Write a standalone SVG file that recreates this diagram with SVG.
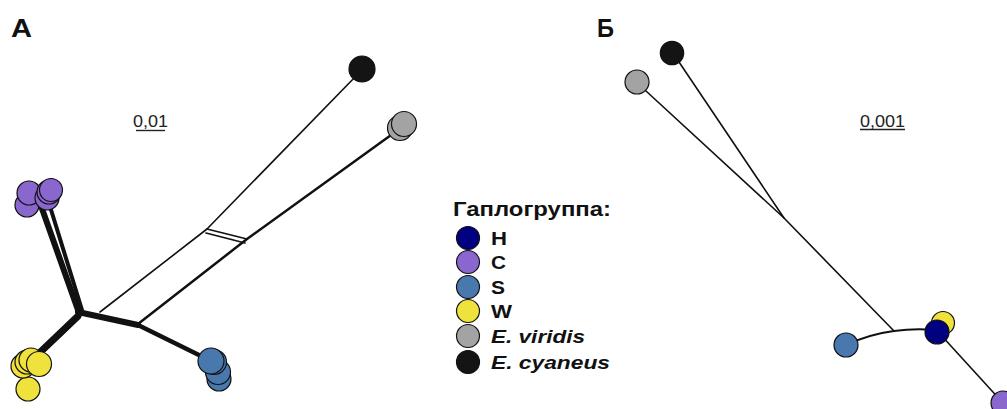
<svg xmlns="http://www.w3.org/2000/svg" width="1007" height="409" viewBox="0 0 1007 409">
<style>
.lbl{font-family:"Liberation Sans",Arial,sans-serif;font-weight:bold;fill:#111}
.sc{font-family:"Liberation Sans",Arial,sans-serif;font-size:17px;fill:#222}
.nd{stroke:#111;stroke-width:1.2}
.ln{fill:none;stroke:#111;stroke-linecap:round;stroke-linejoin:round}
.H{fill:#000080}.C{fill:#8A67CF}.S{fill:#4878AE}.W{fill:#F0E23C}.V{fill:#A3A3A3}.K{fill:#141414}
</style>
<rect width="1007" height="409" fill="#fff"/>
<text class="lbl" x="11" y="37" font-size="25" textLength="21" lengthAdjust="spacingAndGlyphs">А</text>
<text class="lbl" x="597" y="37" font-size="25" textLength="17" lengthAdjust="spacingAndGlyphs">Б</text>
<g id="scaleA"><text class="sc" x="133" y="127" textLength="35" lengthAdjust="spacingAndGlyphs">0,01</text><line x1="136" y1="130.5" x2="165" y2="130.5" stroke="#222" stroke-width="1.4"/></g>
<g id="scaleB"><text class="sc" x="860" y="127" textLength="45" lengthAdjust="spacingAndGlyphs">0,001</text><line x1="860" y1="129.5" x2="905" y2="129.5" stroke="#222" stroke-width="1.4"/></g>
<g id="connectors">
  <!-- panel A -->
  <path class="ln" stroke-width="1.6" d="M357,75 L207,229 L100,312"/>
  <path class="ln" stroke-width="2.5" d="M398,130 L247,239 L138,324"/>
  <path class="ln" stroke-width="1.6" d="M207,229 L247,239 M206,233 L245,243"/>
  <!-- purple branch -->
  <path class="ln" stroke-width="6" d="M78,310 L40,203"/>
  <path class="ln" stroke-width="1.3" stroke="#fff" d="M77,308 L39,203"/>
  <path class="ln" stroke-width="4" d="M82,310 L48,200"/>
  <!-- yellow branch -->
  <path class="ln" stroke-width="7" d="M78,316 L34,358"/>
  <path class="ln" stroke-width="1.2" stroke="#fff" d="M77,316.5 L33,358"/>
  <path class="ln" stroke-width="1.2" stroke="#fff" d="M80,318 L37,359"/>
  <!-- center to node2 -->
  <path class="ln" stroke-width="6" d="M78,312 L138,325"/>
  <path class="ln" stroke-width="1" stroke="#fff" d="M85,313 L132,323"/>
  <!-- node2 to blue -->
  <path class="ln" stroke-width="4.5" d="M138,325 L205,358"/>
  <!-- panel B -->
  <path class="ln" stroke-width="1.6" d="M679,62 L784,218"/>
  <path class="ln" stroke-width="1.6" d="M646,91 L784,218 L894,331"/>
  <path class="ln" stroke-width="2" d="M894,331 Q870,334 846,345"/>
  <path class="ln" stroke-width="2" d="M894,331 Q915,328 935,330"/>
  <path class="ln" stroke-width="1.6" d="M940,334 L1003,403"/>
</g>
<g id="node-A-cyaneus"><circle class="nd K" cx="362" cy="69" r="13"/></g>
<g id="node-A-viridis"><circle class="nd V" cx="400" cy="128" r="12.5" fill="#777"/><circle class="nd V" cx="404" cy="124" r="12.5"/></g>
<g id="node-A-C">
  <circle class="nd C" cx="27" cy="205" r="12"/>
  <circle class="nd C" cx="29" cy="193" r="12"/>
  <circle class="nd C" cx="47" cy="198" r="12"/>
  <circle class="nd C" cx="49" cy="192" r="12"/>
  <circle class="nd C" cx="51" cy="190" r="11.5"/>
</g>
<g id="node-A-W">
  <circle class="nd W" cx="28" cy="389" r="12"/>
  <circle class="nd W" cx="23" cy="366" r="12"/>
  <circle class="nd W" cx="27" cy="362" r="12"/>
  <circle class="nd W" cx="31" cy="360" r="12"/>
  <circle class="nd W" cx="39" cy="364" r="12.5"/>
</g>
<g id="node-A-S">
  <circle class="nd S" cx="219" cy="379" r="12"/>
  <circle class="nd S" cx="218" cy="372" r="12.5"/>
  <circle class="nd S" cx="214" cy="362" r="12.5"/>
  <circle class="nd S" cx="211" cy="361" r="13"/>
</g>
<g id="node-B-cyaneus"><circle class="nd K" cx="672" cy="53" r="11.7"/></g>
<g id="node-B-viridis"><circle class="nd V" cx="637" cy="82" r="12"/></g>
<g id="node-B-S"><circle class="nd S" cx="846" cy="345" r="12"/></g>
<g id="node-B-W"><circle class="nd W" cx="943" cy="323" r="11.5"/></g>
<g id="node-B-H"><circle class="nd H" cx="937" cy="332" r="12"/></g>
<g id="node-B-C"><circle class="nd C" cx="1003" cy="403" r="12"/></g>
<g id="legend">
  <text class="lbl" x="453" y="216" font-size="20" textLength="158" lengthAdjust="spacingAndGlyphs">Гаплогруппа:</text>
  <circle class="nd H" cx="468" cy="238" r="11.5"/>
  <text class="lbl" x="491" y="245" font-size="19" textLength="16" lengthAdjust="spacingAndGlyphs">H</text>
  <circle class="nd C" cx="468" cy="262" r="11.5"/>
  <text class="lbl" x="491" y="269" font-size="19" textLength="15" lengthAdjust="spacingAndGlyphs">C</text>
  <circle class="nd S" cx="468" cy="287" r="11.5"/>
  <text class="lbl" x="491" y="294" font-size="19" textLength="14" lengthAdjust="spacingAndGlyphs">S</text>
  <circle class="nd W" cx="468" cy="311" r="11.5"/>
  <text class="lbl" x="491" y="318" font-size="19" textLength="21" lengthAdjust="spacingAndGlyphs">W</text>
  <circle class="nd V" cx="468" cy="336" r="11.5"/>
  <text class="lbl" x="491" y="343" font-size="19" font-style="italic" textLength="94" lengthAdjust="spacingAndGlyphs">E. viridis</text>
  <circle class="nd K" cx="468" cy="362" r="11.5"/>
  <text class="lbl" x="491" y="369" font-size="19" font-style="italic" textLength="119" lengthAdjust="spacingAndGlyphs">E. cyaneus</text>
</g>
</svg>
